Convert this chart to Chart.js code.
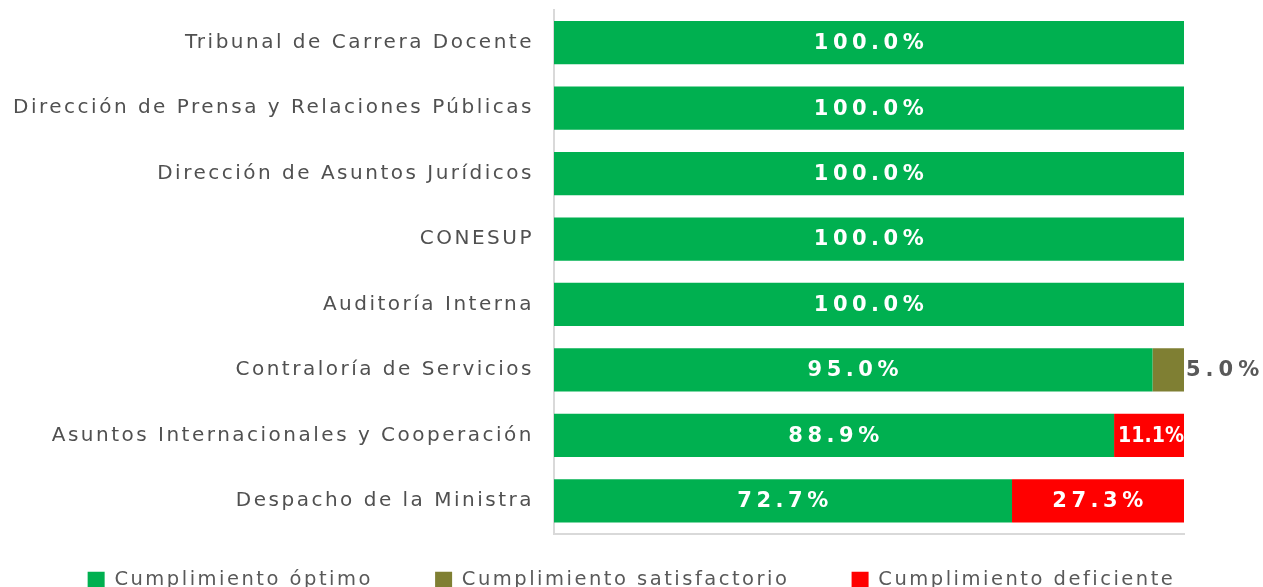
<!DOCTYPE html>
<html>
<head>
<meta charset="utf-8">
<script src="https://cdn.jsdelivr.net/npm/chart.js@4"></script>
<style>
  html, body { margin: 0; padding: 0; background: #fff; overflow: hidden; }
  #wrap { width: 1263px; height: 600px; }
</style>
</head>
<body>
<div id="wrap"><canvas id="bars"></canvas></div>
<script>
const categories = [
    'Tribunal de Carrera Docente',
    'Dirección de Prensa y Relaciones Públicas',
    'Dirección de Asuntos Jurídicos',
    'CONESUP',
    'Auditoría Interna',
    'Contraloría de Servicios',
    'Asuntos Internacionales y Cooperación',
    'Despacho de la Ministra'
];
const optimo = [100, 100, 100, 100, 100, 95, 88.9, 72.7];
const satisfactorio = [0, 0, 0, 0, 0, 5, 0, 0];
const deficiente = [0, 0, 0, 0, 0, 0, 11.1, 27.3];
const seriesNames = ['Cumplimiento óptimo', 'Cumplimiento satisfactorio', 'Cumplimiento deficiente'];

// the original font is a wide one, so spread the letters out a bit
const spacing = {
    id: 'spacing',
    beforeUpdate(chart) { chart.ctx.letterSpacing = '2.5px'; },
    beforeDraw(chart) { chart.ctx.letterSpacing = '2.5px'; }
};

// draws the percent labels, the olive one sits outside the bar
const barLabels = {
    id: 'barLabels',
    afterDatasetsDraw(chart) {
        const ctx = chart.ctx;
        ctx.save();
        ctx.font = 'bold 21px "DejaVu Sans"';
        ctx.textBaseline = 'middle';
        chart.data.datasets.forEach((ds, i) => {
            const meta = chart.getDatasetMeta(i);
            meta.data.forEach((bar, j) => {
                const v = ds.data[j];
                if (!v) return;
                const txt = v.toFixed(1) + '%';
                ctx.letterSpacing = '4.5px';
                if (i === 1) {
                    ctx.fillStyle = '#595959';
                    ctx.textAlign = 'left';
                    ctx.letterSpacing = '5px';
                    ctx.fillText(txt, bar.x + 2, bar.y + 1);
                } else {
                    // squeeze the text when the segment is narrow
                    const room = Math.abs(bar.x - bar.base) - 4;
                    if (ctx.measureText(txt).width > room) ctx.letterSpacing = '0px';
                    let w = ctx.measureText(txt).width;
                    ctx.save();
                    const cx = (bar.x + bar.base) / 2 + 2;
                    ctx.translate(cx, bar.y + 1);
                    if (w > room) ctx.scale(room / w, 1);
                    ctx.fillStyle = '#ffffff';
                    ctx.textAlign = 'center';
                    ctx.fillText(txt, 0, 0);
                    ctx.restore();
                }
            });
        });
        ctx.restore();
    }
};

const chart = new Chart(document.getElementById('bars'), {
    type: 'bar',
    data: {
        labels: categories,
        datasets: [
            { label: seriesNames[0], data: optimo, backgroundColor: '#00B050' },
            { label: seriesNames[1], data: satisfactorio, backgroundColor: '#7F7F33' },
            { label: seriesNames[2], data: deficiente, backgroundColor: '#FF0000' }
        ]
    },
    options: {
        indexAxis: 'y',
        responsive: true,
        maintainAspectRatio: false,
        animation: false,
        datasets: { bar: { categoryPercentage: 1, barPercentage: 0.66 } },
        layout: { padding: { top: 10, right: 0, bottom: 0, left: 0 } },
        scales: {
            x: {
                stacked: true,
                min: 0,
                max: 100,
                grid: { display: false },
                ticks: { display: false },
                border: { display: true, color: '#D9D9D9', width: 2 },
                afterFit(scale) { scale.height = 27; }
            },
            y: {
                stacked: true,
                grid: { display: false },
                border: { display: true, color: '#D9D9D9', width: 2 },
                ticks: {
                    color: '#505050',
                    padding: 12,
                    font: { family: '"DejaVu Sans"', size: 20 }
                },
                afterFit(scale) {
                    scale.width = 554;
                    scale.paddingTop = 0;
                    scale.paddingBottom = 0;
                }
            },
            // empty strip on the right so the legend centres on the whole page
            yRight: {
                position: 'right',
                grid: { display: false },
                border: { display: false },
                ticks: { display: false },
                afterFit(scale) {
                    scale.width = 79;
                    scale.paddingTop = 0;
                    scale.paddingBottom = 0;
                }
            }
        },
        plugins: {
            tooltip: { enabled: false },
            legend: {
                position: 'bottom',
                labels: {
                    boxWidth: 17,
                    boxHeight: 17,
                    padding: 10,
                    color: '#595959',
                    font: { family: '"DejaVu Sans"', size: 19.5 },
                    generateLabels(chart) {
                        const items = Chart.defaults.plugins.legend.labels.generateLabels(chart);
                        // wide gaps between the entries like in the original
                        items.forEach((it, k) => {
                            if (k < items.length - 1) it.text = it.text + '      ';
                        });
                        return items;
                    }
                }
            }
        }
    },
    plugins: [spacing, barLabels]
});
</script>
</body>
</html>
